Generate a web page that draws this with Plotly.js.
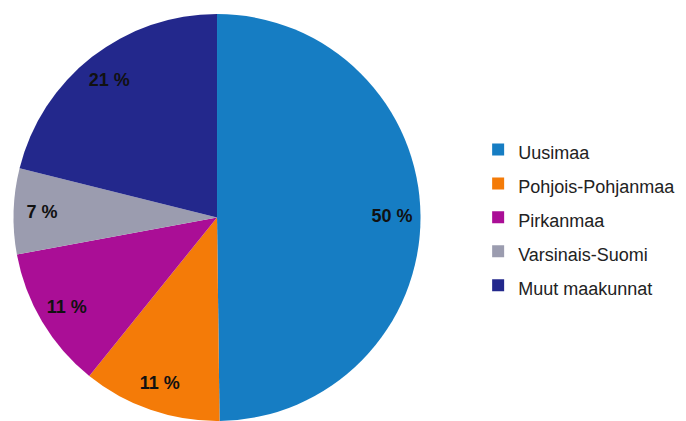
<!DOCTYPE html>
<html>
<head>
<meta charset="utf-8">
<script src="https://cdn.plot.ly/plotly-3.0.1.min.js"></script>
<style>html,body{margin:0;padding:0;background:#fff;}#chart{width:686px;height:421px;}</style>
</head>
<body>
<div id="chart"></div>
<script>
const regions = ["Uusimaa", "Pohjois-Pohjanmaa", "Pirkanmaa", "Varsinais-Suomi", "Muut maakunnat"];
const shares = [49.8, 11.0, 11.3, 6.8, 21.1];
const colors = ["#167dc3", "#f47b08", "#aa0e96", "#9b9caf", "#23288c"];

const legendLabels = regions.map(r => '<span style="font-size:18px">' + r + '</span>');
const pieDomain = {x: [0, 0.6327], y: [0, 1]};

// filled slices with the legend
const slices = {
  type: 'pie',
  labels: legendLabels,
  values: shares,
  sort: false,
  direction: 'clockwise',
  rotation: 0,
  marker: {colors: colors, line: {width: 0}},
  textinfo: 'none',
  hoverinfo: 'label+percent',
  domain: pieDomain
};

// transparent ring over the same data, carrying the value labels near the rim
const labelRing = {
  type: 'pie',
  labels: regions,
  values: shares,
  sort: false,
  direction: 'clockwise',
  rotation: 0,
  hole: 0.72,
  showlegend: false,
  marker: {colors: regions.map(() => 'rgba(0,0,0,0)'), line: {width: 0}},
  texttemplate: '%{value:.0f} %',
  textposition: 'inside',
  insidetextorientation: 'horizontal',
  textfont: {family: 'Liberation Sans, Arial, sans-serif', size: 18, color: '#111', weight: 'bold'},
  hoverinfo: 'skip',
  domain: pieDomain
};

const layout = {
  width: 686, height: 421,
  margin: {l: 0, r: 0, t: 14, b: 0},
  paper_bgcolor: '#fff',
  showlegend: true,
  legend: {
    x: 0.697, y: 0.5, xanchor: 'left', yanchor: 'middle',
    font: {family: 'Liberation Sans, Arial, sans-serif', size: 23.8, color: '#222'},
    itemwidth: 30,
    bgcolor: 'rgba(0,0,0,0)'
  }
};

Plotly.newPlot('chart', [slices, labelRing], layout, {displayModeBar: false, staticPlot: true});
</script>
</body>
</html>
